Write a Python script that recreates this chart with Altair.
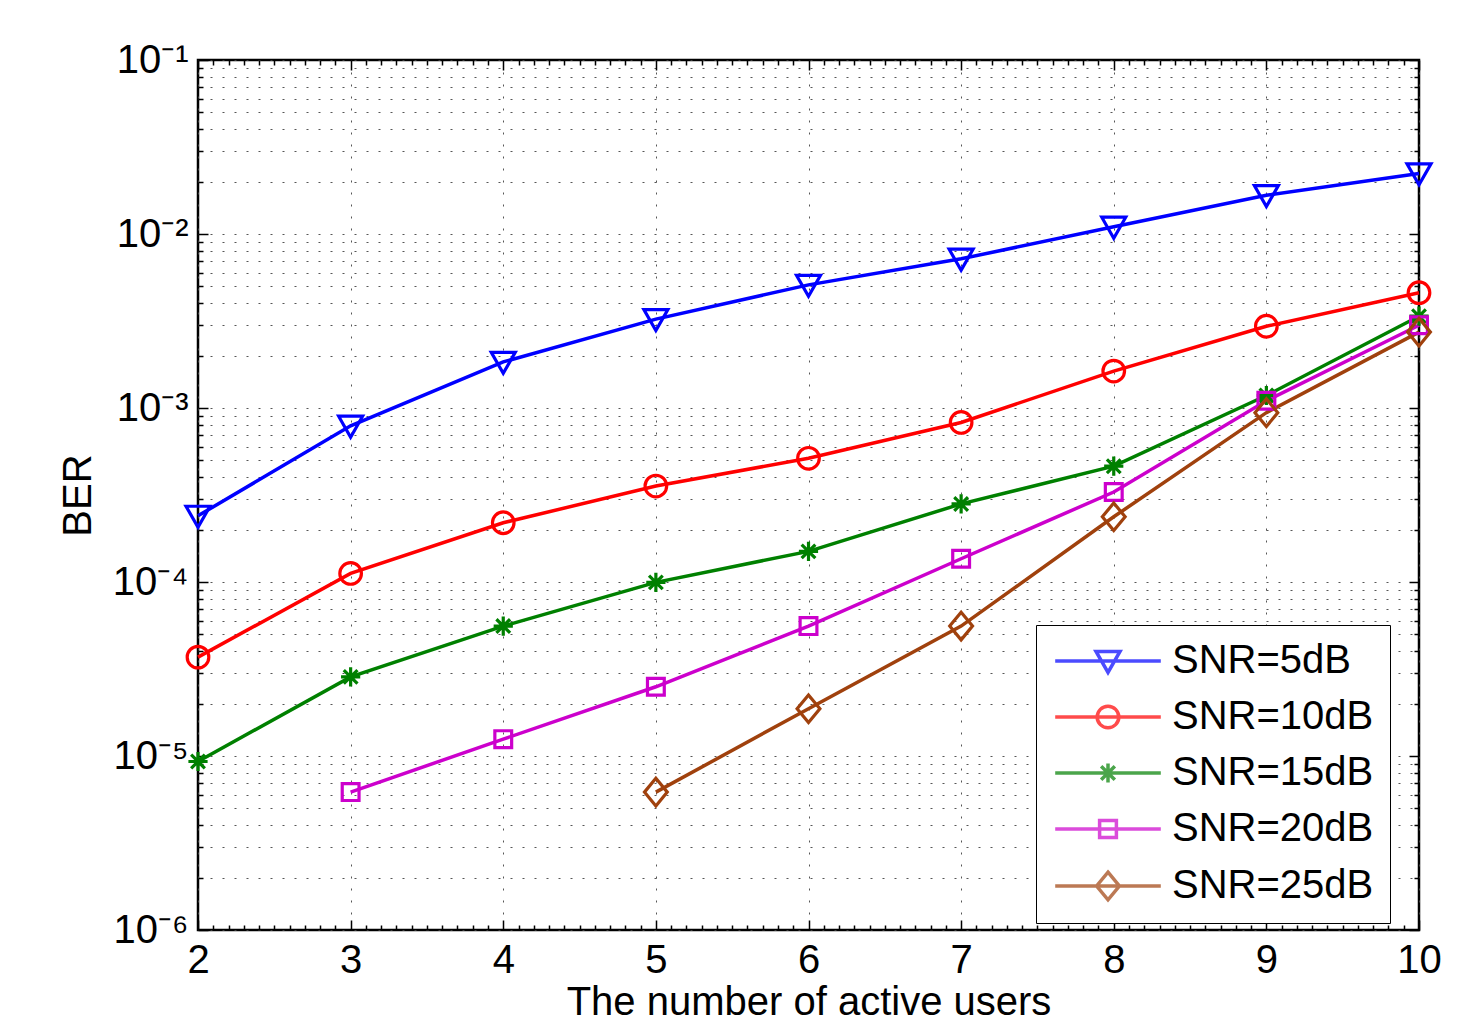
import altair as alt
import pandas as pd

# ---------------- data ----------------
x_users = [2, 3, 4, 5, 6, 7, 8, 9, 10]
ber_snr5 = [2.4e-4, 7.9e-4, 1.84e-3, 3.24e-3, 5.1e-3, 7.2e-3, 1.1e-2, 1.67e-2, 2.23e-2]
ber_snr10 = [3.7e-5, 1.12e-4, 2.19e-4, 3.56e-4, 5.14e-4, 8.26e-4, 1.63e-3, 2.95e-3, 4.6e-3]
ber_snr15 = [9.3e-6, 2.85e-5, 5.58e-5, 9.95e-5, 1.5e-4, 2.81e-4, 4.63e-4, 1.18e-3, 3.37e-3]
x_snr20 = [3, 4, 5, 6, 7, 8, 9, 10]
ber_snr20 = [6.2e-6, 1.25e-5, 2.5e-5, 5.58e-5, 1.36e-4, 3.29e-4, 1.10e-3, 2.99e-3]
x_snr25 = [5, 6, 7, 8, 9, 10]
ber_snr25 = [6.2e-6, 1.87e-5, 5.58e-5, 2.37e-4, 9.4e-4, 2.73e-3]

series_names = ["SNR=5dB", "SNR=10dB", "SNR=15dB", "SNR=20dB", "SNR=25dB"]
series_colors = ["#0000FF", "#FF0000", "#008000", "#CC00CC", "#A0410D"]

x_major = [2, 3, 4, 5, 6, 7, 8, 9, 10]
x_minor = [round(i / 10, 1) for i in range(21, 100) if i % 10 != 0]
y_major = [1e-6, 1e-5, 1e-4, 1e-3, 1e-2, 1e-1]
y_minor = [k * 10.0 ** e for e in range(-6, -1) for k in range(2, 10)]

# marker shapes (custom paths in the unit square), legend = marker + line
marker_paths = [
    "M-1,-0.8L1,-0.8L0,0.95Z",
    "M-0.9,0A0.9,0.9,0,1,0,0.9,0A0.9,0.9,0,1,0,-0.9,0Z",
    "M-0.8,0H0.8M0,-0.8V0.8M-0.57,-0.57L0.57,0.57M-0.57,0.57L0.57,-0.57",
    "M-0.7,-0.7H0.7V0.7H-0.7Z",
    "M0,-1.15L0.95,0L0,1.15L-0.95,0Z",
]
legend_paths = [p + "M-4.4,0H4.4" for p in marker_paths]

frames = []
for name, xs, ys in [
    (series_names[0], x_users, ber_snr5),
    (series_names[1], x_users, ber_snr10),
    (series_names[2], x_users, ber_snr15),
    (series_names[3], x_snr20, ber_snr20),
    (series_names[4], x_snr25, ber_snr25),
]:
    frames.append(pd.DataFrame({"users": xs, "ber": ys, "series": name}))
df = pd.concat(frames, ignore_index=True)

FONT = "Liberation Sans"
FS = 40
W, H = 1221, 870

xscale = alt.Scale(domain=[2, 10], nice=False, zero=False)
yscale = alt.Scale(type="log", domain=[1e-6, 1e-1], nice=False)

grid_dash = [2, 10]
grid_color = "#444444"

ylabel_expr = ("'10' + ['', '\u207b\u00b9', '\u207b\u00b2', '\u207b\u00b3', "
               "'\u207b\u2074', '\u207b\u2075', '\u207b\u2076'][round(-log(datum.value)/LN10)]")

common_axis = dict(domain=False, tickColor="black", tickWidth=1.5,
                   labelFont=FONT, labelFontSize=FS, labelColor="black",
                   labelFlush=False, labelOverlap=False,
                   titleFont=FONT, titleFontSize=FS, titleFontWeight="normal",
                   titleColor="black", gridColor=grid_color, gridDash=grid_dash,
                   gridWidth=1, gridOpacity=0.9)

base = alt.Chart(df)

# axis layer 1: bottom/left major ticks with labels and grid
ax1 = base.mark_line(strokeOpacity=0).encode(
    x=alt.X("users:Q", scale=xscale, axis=alt.Axis(
        orient="bottom", values=x_major, format="d", tickSize=10, offset=-10,
        labelPadding=10, title="The number of active users", titlePadding=2,
        grid=True, **common_axis)),
    y=alt.Y("ber:Q", scale=yscale, axis=alt.Axis(
        orient="left", values=y_major, labelExpr=ylabel_expr, tickSize=10, offset=-10,
        labelPadding=10, title="BER", titlePadding=14, grid=True, **common_axis)),
    detail="series:N",
)
# axis layer 2: bottom/left minor ticks, y minor grid
ax2 = base.mark_line(strokeOpacity=0).encode(
    x=alt.X("users:Q", scale=xscale, axis=alt.Axis(
        orient="bottom", values=x_minor, tickSize=5, offset=-5, labels=False,
        title=None, grid=False, **common_axis)),
    y=alt.Y("ber:Q", scale=yscale, axis=alt.Axis(
        orient="left", values=y_minor, tickSize=5, offset=-5, labels=False,
        title=None, grid=True, **common_axis)),
    detail="series:N",
)
# axis layer 3: top/right major ticks
ax3 = base.mark_line(strokeOpacity=0).encode(
    x=alt.X("users:Q", scale=xscale, axis=alt.Axis(
        orient="top", values=x_major, tickSize=10, offset=-10, labels=False,
        title=None, grid=False, **common_axis)),
    y=alt.Y("ber:Q", scale=yscale, axis=alt.Axis(
        orient="right", values=y_major, tickSize=10, offset=-10, labels=False,
        title=None, grid=False, **common_axis)),
    detail="series:N",
)
# axis layer 4: top/right minor ticks
ax4 = base.mark_line(strokeOpacity=0).encode(
    x=alt.X("users:Q", scale=xscale, axis=alt.Axis(
        orient="top", values=x_minor, tickSize=5, offset=-5, labels=False,
        title=None, grid=False, **common_axis)),
    y=alt.Y("ber:Q", scale=yscale, axis=alt.Axis(
        orient="right", values=y_minor, tickSize=5, offset=-5, labels=False,
        title=None, grid=False, **common_axis)),
    detail="series:N",
)

color_scale = alt.Scale(domain=series_names, range=series_colors)

lines = base.mark_line(strokeWidth=3.5).encode(
    x=alt.X("users:Q", scale=xscale, axis=None),
    y=alt.Y("ber:Q", scale=yscale, axis=None),
    color=alt.Color("series:N", scale=color_scale, legend=None),
    detail="series:N",
)
points = base.mark_point(filled=False, strokeWidth=3.2, size=576, opacity=1).encode(
    x=alt.X("users:Q", scale=xscale, axis=None),
    y=alt.Y("ber:Q", scale=yscale, axis=None),
    color=alt.Color("series:N", scale=color_scale, legend=None),
    shape=alt.Shape("series:N", scale=alt.Scale(domain=series_names, range=marker_paths), legend=None),
)

leg = alt.Legend(
    title=None, orient="none", legendX=838, legendY=565,
    padding=16, strokeColor="black", fillColor="white",
    symbolStrokeWidth=3.5, symbolSize=576, symbolOffset=36, labelOffset=44,
    labelFont=FONT, labelFontSize=FS, labelColor="black", rowPadding=16,
    labelLimit=500, symbolFillColor="transparent",
)
legend_layer = base.transform_filter("false").mark_point(filled=False, strokeWidth=3.5, size=576).encode(
    x=alt.X("users:Q", scale=xscale, axis=None),
    y=alt.Y("ber:Q", scale=yscale, axis=None),
    color=alt.Color("series:N", scale=color_scale, legend=leg),
    shape=alt.Shape("series:N", scale=alt.Scale(domain=series_names, range=legend_paths), legend=leg),
)

chart = alt.layer(ax1, ax2, ax3, ax4, lines, points, legend_layer).resolve_scale(
    color="independent", shape="independent"
).resolve_axis(
    x="independent", y="independent"
).properties(
    width=W, height=H,
    padding={"left": 50, "top": 32, "right": 20, "bottom": 0},
).configure_view(stroke="black", strokeWidth=2.5)

chart.save("out.html", embed_options={"renderer": "svg", "actions": False})
